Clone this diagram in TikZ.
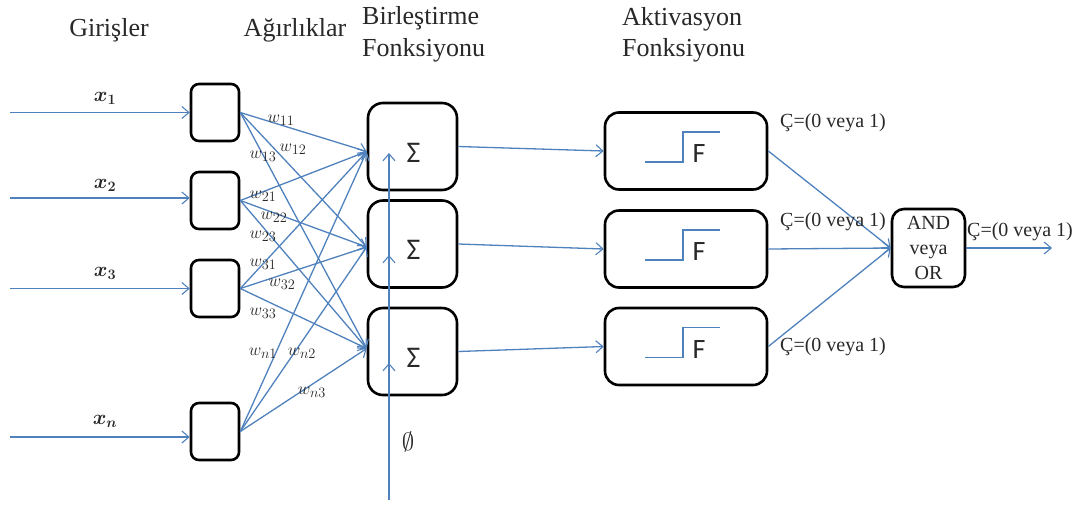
\documentclass[tikz,border=0pt]{standalone}
\usepackage{fontspec}
\setmainfont{Liberation Serif}
\newfontfamily\calib{Carlito}
\usetikzlibrary{arrows.meta,calc}
\definecolor{lnblue}{RGB}{79,129,189}
\definecolor{txt}{RGB}{40,40,40}
\tikzset{
  conn/.style={draw=lnblue, line width=1.3pt, -{Straight Barb[length=7pt,width=12pt,line width=1.1pt]}},
  inbox/.style={draw=black, line width=2.6pt, rounded corners=8pt, minimum width=48pt, minimum height=57pt, inner sep=0pt},
  sumbox/.style={draw=black, line width=2.6pt, rounded corners=15pt, minimum width=89pt, minimum height=87pt, inner sep=0pt},
  actbox/.style={draw=black, line width=2.6pt, rounded corners=14pt, minimum width=162pt, minimum height=77pt, inner sep=0pt},
  andbox/.style={draw=black, line width=2.6pt, rounded corners=12pt, minimum width=73pt, minimum height=78pt, inner sep=0pt},
  header/.style={text=txt, font=\fontsize{26}{32}\selectfont, inner sep=0pt},
  wlab/.style={text=txt, font=\fontsize{19}{22}\selectfont, inner sep=0pt},
  xlab/.style={text=txt, font=\fontsize{22}{24}\selectfont\boldmath, inner sep=0pt},
  clab/.style={text=txt, font=\fontsize{20}{24}\selectfont, inner sep=0pt},
  stepline/.style={draw=lnblue, line width=1.3pt},
}
\begin{document}
\begin{tikzpicture}[x=1pt,y=-1pt]
\useasboundingbox (0,0) rectangle (1073,504);
% headers
\node[header] (h1) at (109,30) {Girişler};
\node[header] (h2) at (295,30) {Ağırlıklar};
\node[header, anchor=west] (h3) at (362,18) {Birleştirme};
\node[header, anchor=west] (h4) at (362,50) {Fonksiyonu};
\node[header, anchor=west] (h5) at (622,19) {Aktivasyon};
\node[header, anchor=west] (h6) at (622,50) {Fonksiyonu};
% input boxes
\node[inbox] (i1) at (215,112.5) {};
\node[inbox] (i2) at (215,200.5) {};
\node[inbox] (i3) at (215,288.5) {};
\node[inbox] (i4) at (215,431.5) {};
% sum boxes
\node[sumbox] (s1) at (412.5,146.5) {};
\node[sumbox] (s2) at (412.5,244) {};
\node[sumbox] (s3) at (412.5,351.5) {};
% activation boxes
\node[actbox] (a1) at (686,151) {};
\node[actbox] (a2) at (686,249) {};
\node[actbox] (a3) at (686,346.5) {};
% and box
\node[andbox, align=center, text=txt, font=\fontsize{20}{25}\selectfont] (and) at (928.5,248) {AND\\veya\\OR};
% input coordinates
\coordinate (in1) at (10,112.5);
\coordinate (in2) at (10,198);
\coordinate (in3) at (10,288.5);
\coordinate (in4) at (10,437);
\draw[conn] (in1) -- (in1 -| i1.west);
\draw[conn] (in2) -- (in2 -| i2.west);
\draw[conn] (in3) -- (in3 -| i3.west);
\draw[conn] (in4) -- (in4 -| i4.west);
\node[xlab] (x1) at (105,98) {$x_1$};
\node[xlab] (x2) at (105,185) {$x_2$};
\node[xlab] (x3) at (105,273) {$x_3$};
\node[xlab] (xn) at (105,421) {$x_n$};
% targets on sum boxes
\coordinate (t1) at ([yshift=-5pt]s1.west);
\coordinate (t2) at ([yshift=-3pt]s2.west);
\coordinate (t3) at ([yshift=3pt]s3.west);
\foreach \i in {i1,i2,i3,i4}{
  \foreach \t in {t1,t2,t3}{
    \draw[conn] (\i.east) -- (\t);
  }
}
% weight labels
\node[wlab] (w11) at (281,120) {$w_{11}$};
\node[wlab] (w12) at (293,149) {$w_{12}$};
\node[wlab] (w13) at (263,156) {$w_{13}$};
\node[wlab] (w21) at (263,196) {$w_{21}$};
\node[wlab] (w22) at (274,217) {$w_{22}$};
\node[wlab] (w23) at (263,236) {$w_{23}$};
\node[wlab] (w31) at (263,264) {$w_{31}$};
\node[wlab] (w32) at (282,284) {$w_{32}$};
\node[wlab] (w33) at (263,313) {$w_{33}$};
\node[wlab] (wn1) at (263,353) {$w_{n1}$};
\node[wlab] (wn2) at (302,353) {$w_{n2}$};
\node[wlab] (wn3) at (312,392) {$w_{n3}$};
% bias line
\coordinate (b0) at (389,500);
\coordinate (b1) at (389,153);
\coordinate (b2a) at (389,272);
\coordinate (b2) at (389,255);
\coordinate (b3a) at (389,380);
\coordinate (b3) at (389,363);
\draw[conn] (b0) -- (b1);
\draw[conn] (b2a) -- (b2);
\draw[conn] (b3a) -- (b3);
\node[text=txt, font=\fontsize{28}{30}\selectfont, inner sep=0pt] (phi) at (408,442) {$\emptyset$};
% sigmas
\foreach \s in {s1,s2,s3}{
  \node[text=txt, font=\calib\fontsize{30}{34}\selectfont, inner sep=0pt] at ($(\s.center)+(1,6)$) {Σ};
}
% sum -> act
\draw[conn] (s1.east) -- (a1.west);
\draw[conn] (s2.east) -- (a2.west);
\draw[conn] (s3.east) -- (a3.west);
% step symbols and F
\foreach \a in {a1,a2,a3}{
  \draw[stepline] ($(\a.center)+(-41,11)$) -- ($(\a.center)+(-3,11)$) -- ($(\a.center)+(-3,-19)$) -- ($(\a.center)+(34,-19)$);
  \node[text=txt, font=\calib\fontsize{28}{32}\selectfont, inner sep=0pt] at ($(\a.center)+(13,3)$) {F};
}
% act -> and
\draw[conn] (a1.east) -- (and.west);
\draw[conn] (a2.east) -- (and.west);
\draw[conn] (a3.east) -- (and.west);
\coordinate (out) at (1052,248);
\draw[conn] (and.east) -- (out);
% output labels
\node[clab] (c1) at (833,123) {Ç=(0 veya 1)};
\node[clab] (c2) at (833,222) {Ç=(0 veya 1)};
\node[clab] (c3) at (833,347) {Ç=(0 veya 1)};
\node[clab] (c4) at (1020,232) {Ç=(0 veya 1)};
\end{tikzpicture}
\end{document}
